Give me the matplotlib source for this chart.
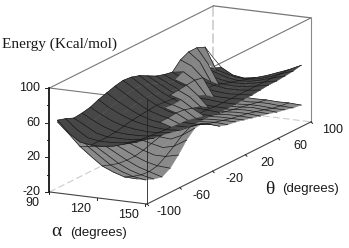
import numpy as np
import matplotlib
matplotlib.use("Agg")
import matplotlib.pyplot as plt
from matplotlib.lines import Line2D
from matplotlib.transforms import IdentityTransform
from mpl_toolkits.mplot3d import proj3d
from mpl_toolkits.mplot3d.art3d import Poly3DCollection

n = np.nan

alpha = [95, 102, 109, 116, 123, 130, 137, 145]
theta = [-100, -90, -80, -70, -60, -50, -40, -30, -20, -10, 0,
         10, 20, 30, 40, 50, 60, 70, 80, 90, 100]

# lower, lighter sheet (the bowl)
lower_sheet = [
    [62, 56, 50, 45, 42, 40, 38, 36, 34, 32, 30, 26, 22, 18, 16, 14, 12, 10, 8, 6, 4],
    [50, 44, 38, 34, 31, 30, 29, 28, 27, 25, 23, 20, 17, 14, 12, 10, 8, 6, 4, 2, -1],
    [37, 32, 27, 24, 22, 22, 22, 22, 22, 21, 19, 17, 15, 13, 11, 9, 7, 5, 3, 1, -1],
    [27, 23, 19, 17, 16, 17, 18, 19, 20, 20, 18, 16, 14, 12, 10, 8, 6, 4, 2, 0, -1.4],
    [17.5, 14, 11, 10, 10, 12, 15, 18, 20, 20, 19, 17, 15, 13, 11, 9, 7, 5, 3, 1, -1],
    [12, 8, 5, 4, 5, 8, 12, 17, 22, 22, 20, 18, 16, 14, 12, 10, 8, 6, 3, 1, -1.6],
    [8, 4, 1, 0, 2, 8, 15, 23, 28, 26, 22, 19, 16.5, 14, 12, 10, 7.5, 5, 2, 0, -1.3],
    [7.5, 1.6, -2, -4.4, 1, 11.5, 24, 33, 34, 28, 21, 18, 16.5, 14, 11.6, 9, 7, 4, 2, -0.5, -2],
]

# upper, dark sheet
upper_sheet = [
    [64, 61, 57, 58, 60, 64, 67, 70, 72, 71, 68, 63, 58, 55, 53, 51, 46, 43, 39, 34, 30],
    [51, 50, 50, 51, 53, 56, 59, 62, 64, 63, 60, 56, 52, 49, 47, 45, 41, 38, 35, 30, 23],
    [42, 42, 43, 45, 47, 50, 52, 54, 55, 54, 52, 49, 46, 44, 42, 41, 37, 34, 31, 27, 21],
    [40, 40, 40, 41, 43, 45, 46, 47, 48, 47, 46, 44, 42, 41, 39, 38, 35, 32, 29, 26, 23],
    [40, 40, 40, 40, 41, 42, 42, 43, 43, 43, 41, 40, 39, 38, 37, 36, 34, 32, 30, 28, 27],
    [42, 41, 40, 40, 40, 40, 40, 40, 40, 39, 39, 38, 38, 37, 36, 36, 35, 34, 33, 32, 32],
    [46, 44, 42, 41, 40, 39, 39, 38, 38, 38, 38, 37, 37, 37, 37, 37, 37, 37, 37, 37, 37],
    [50, 48, 45, 44, 42, 40, 39, 38, 38, 38, 37, 37, 37, 38, 38, 39, 40, 40, 41, 42, 44],
]

# grey fold that pokes through, with the peak
fold_sheet = [
    [n, n, n, n, n, n, n, n, n, n, n, n, n, n, 53, 62.5, 67, 67, 63, 46, 30],
    [n, n, n, n, n, n, n, n, n, n, n, n, n, 50.5, 55, 57, 57, 50, 38, n, n],
    [n, n, n, n, n, n, n, n, n, n, n, 44, 45, 46, 47, 45, 35.5, 27, n, n, n],
    [n, n, n, n, n, n, n, n, n, 40, 39, 40, 39, 36, 31.6, 24.5, n, n, n, n, n],
    [n, n, n, n, n, n, n, 35, 35, 36, 35, 32, 29, 23, n, n, n, n, n, n, n],
    [n, n, n, n, n, n, 32, 31, 30, 29.6, 27, 25, n, n, n, n, n, n, n, n, n],
]

alpha_ticks = [90, 120, 150]
theta_ticks = [-100, -60, -20, 20, 60, 100]
energy_ticks = [-20, 20, 60, 100]
energy_minor = [0, 40, 80]

ALPHA_RANGE = (90, 151)
THETA_RANGE = (-100, 100)
ENERGY_RANGE = (-20, 100)
TEXT_COLOR = "#1a1a1a"

plt.rcParams["font.family"] = ["Liberation Sans", "DejaVu Sans"]

fig = plt.figure(figsize=(3.49, 2.48), dpi=100)
ax = fig.add_axes([0, 0, 1, 1], projection="3d", proj_type="ortho",
                  computed_zorder=False)
ax.view_init(elev=14.4, azim=-63.6)
ax.set_box_aspect((108.9, 369, 107.4))
ax.set_xlim(*ALPHA_RANGE, view_margin=0)
ax.set_ylim(*THETA_RANGE, view_margin=0)
ax.set_zlim(*ENERGY_RANGE, view_margin=0)
ax.set_axis_off()


def add_sheet(values, face, z, row_step=2):
    values = np.array(values, dtype=float)
    rows = np.array(alpha[:values.shape[0]], dtype=float)
    verts = []
    for i in range(values.shape[0] - 1):
        for j in range(values.shape[1] - 1):
            cell = values[i:i + 2, j:j + 2]
            if np.isnan(cell).any():
                continue
            verts.append([(alpha[i], theta[j], cell[0, 0]),
                          (alpha[i + 1], theta[j], cell[1, 0]),
                          (alpha[i + 1], theta[j + 1], cell[1, 1]),
                          (alpha[i], theta[j + 1], cell[0, 1])])
    ax.add_collection3d(Poly3DCollection(verts, facecolor=face, edgecolor=face,
                                         linewidth=0.3, zorder=z))
    # mesh: every line across, only some of the lines along theta
    for j in range(values.shape[1]):
        ax.plot(rows, np.full(len(rows), theta[j]), values[:, j], color="#161616",
                lw=0.5, zorder=z)
    for i in range(0, values.shape[0], row_step):
        ax.plot(np.full(len(theta), rows[i]), theta, values[i], color="#161616",
                lw=0.45, zorder=z)


def edge(p, q, color, lw, ls="-", z=1):
    ax.plot([p[0], q[0]], [p[1], q[1]], [p[2], q[2]], color=color, lw=lw, ls=ls, zorder=z)


a0, a1 = ALPHA_RANGE
t0, t1 = THETA_RANGE
e0, e1 = ENERGY_RANGE

# back of the box
edge((a0, t1, e0), (a0, t1, e1), "#cccccc", 1.2, (0, (6, 2)))
edge((a0, t0, e0), (a0, t1, e0), "#cccccc", 0.8, (0, (6, 3)))
edge((a0, t1, e0), (a1, t1, e0), "#cccccc", 0.8, (0, (6, 3)))
edge((a0, t0, e1), (a0, t1, e1), "#777777", 0.8)
edge((a0, t1, e1), (a1, t1, e1), "#777777", 0.9)
edge((a0, t0, e1), (a1, t0, e1), "#777777", 0.8)
edge((a1, t0, e1), (a1, t1, e1), "#777777", 0.8)
edge((a1, t1, e0), (a1, t1, e1), "#888888", 0.8)

add_sheet(lower_sheet, "#8a8a8a", 2)
add_sheet(upper_sheet, "#474747", 3, row_step=3)
add_sheet(fold_sheet, "#858585", 4, row_step=2)

# front of the box
edge((a1, t0, e0), (a1, t0, e1), "#222222", 0.6, z=5)
edge((a0, t0, e0), (a1, t0, e0), "#444444", 0.8, z=5)
edge((a1, t0, e0), (a1, t1, e0), "#444444", 0.8, z=5)
edge((a0, t0, e0), (a0, t0, e1), "black", 1.2, z=5)


def to_px(x, y, z):
    px, py, _ = proj3d.proj_transform(x, y, z, ax.get_proj())
    return ax.transData.transform((px, py))


# fit the box onto the figure: top left corner at (49.5, 160), right corner at x 311
size = 349.0
cx, cy = 180.25, 143.0
for _ in range(3):
    ax.set_position([(cx - size / 2) / 349, (cy - size / 2) / 248, size / 349, size / 248])
    fig.canvas.draw()
    left = to_px(a0, t0, e1)
    right = to_px(a1, t1, e0)
    size *= 261.5 / (right[0] - left[0])
    cx += 49.5 - left[0]
    cy += 160 - left[1]
ax.set_position([(cx - size / 2) / 349, (cy - size / 2) / 248, size / 349, size / 248])
fig.canvas.draw()


def tick(p, dx, dy, lw=0.7):
    x, y = to_px(*p)
    fig.add_artist(Line2D([x, x + dx], [y, y + dy], color="#222222", lw=lw,
                          transform=IdentityTransform()))


def label(p, dx, dy, text, ha="center"):
    x, y = to_px(*p)
    fig.text((x + dx) / 349, (y + dy) / 248, text, ha=ha, va="center", fontsize=9, color=TEXT_COLOR)


for v in energy_ticks:
    tick((a0, t0, v), -4, 0)
    label((a0, t0, v), -9, 0, str(v), ha="right")
for v in energy_minor:
    tick((a0, t0, v), -2.5, 0)
for v in alpha_ticks:
    tick((v, t0, e0), 0, -2)
    label((v, t0, e0), -17, -11.5, str(v))
for v in theta_ticks:
    tick((a1, v, e0), 1.5, -1.5)
    label((a1, v, e0), 22, -8, str(v))

fig.text(2 / 349, 1 - 44 / 248, "Energy (Kcal/mol)", family="Liberation Serif",
         fontsize=11, ha="left", va="center", color=TEXT_COLOR)
fig.text(51 / 349, 1 - 232 / 248, "\u03b1", family="Liberation Serif", fontsize=14,
         ha="left", va="center", color=TEXT_COLOR)
fig.text(70 / 349, 1 - 233 / 248, "(degrees)", fontsize=9.5, ha="left", va="center",
         color=TEXT_COLOR)
fig.text(265 / 349, 1 - 189 / 248, "\u03b8", family="Liberation Serif", fontsize=14,
         ha="left", va="center", color=TEXT_COLOR)
fig.text(282 / 349, 1 - 189 / 248, "(degrees)", fontsize=9.5, ha="left", va="center",
         color=TEXT_COLOR)

fig.savefig("out.png", dpi=100)
plt.close()
